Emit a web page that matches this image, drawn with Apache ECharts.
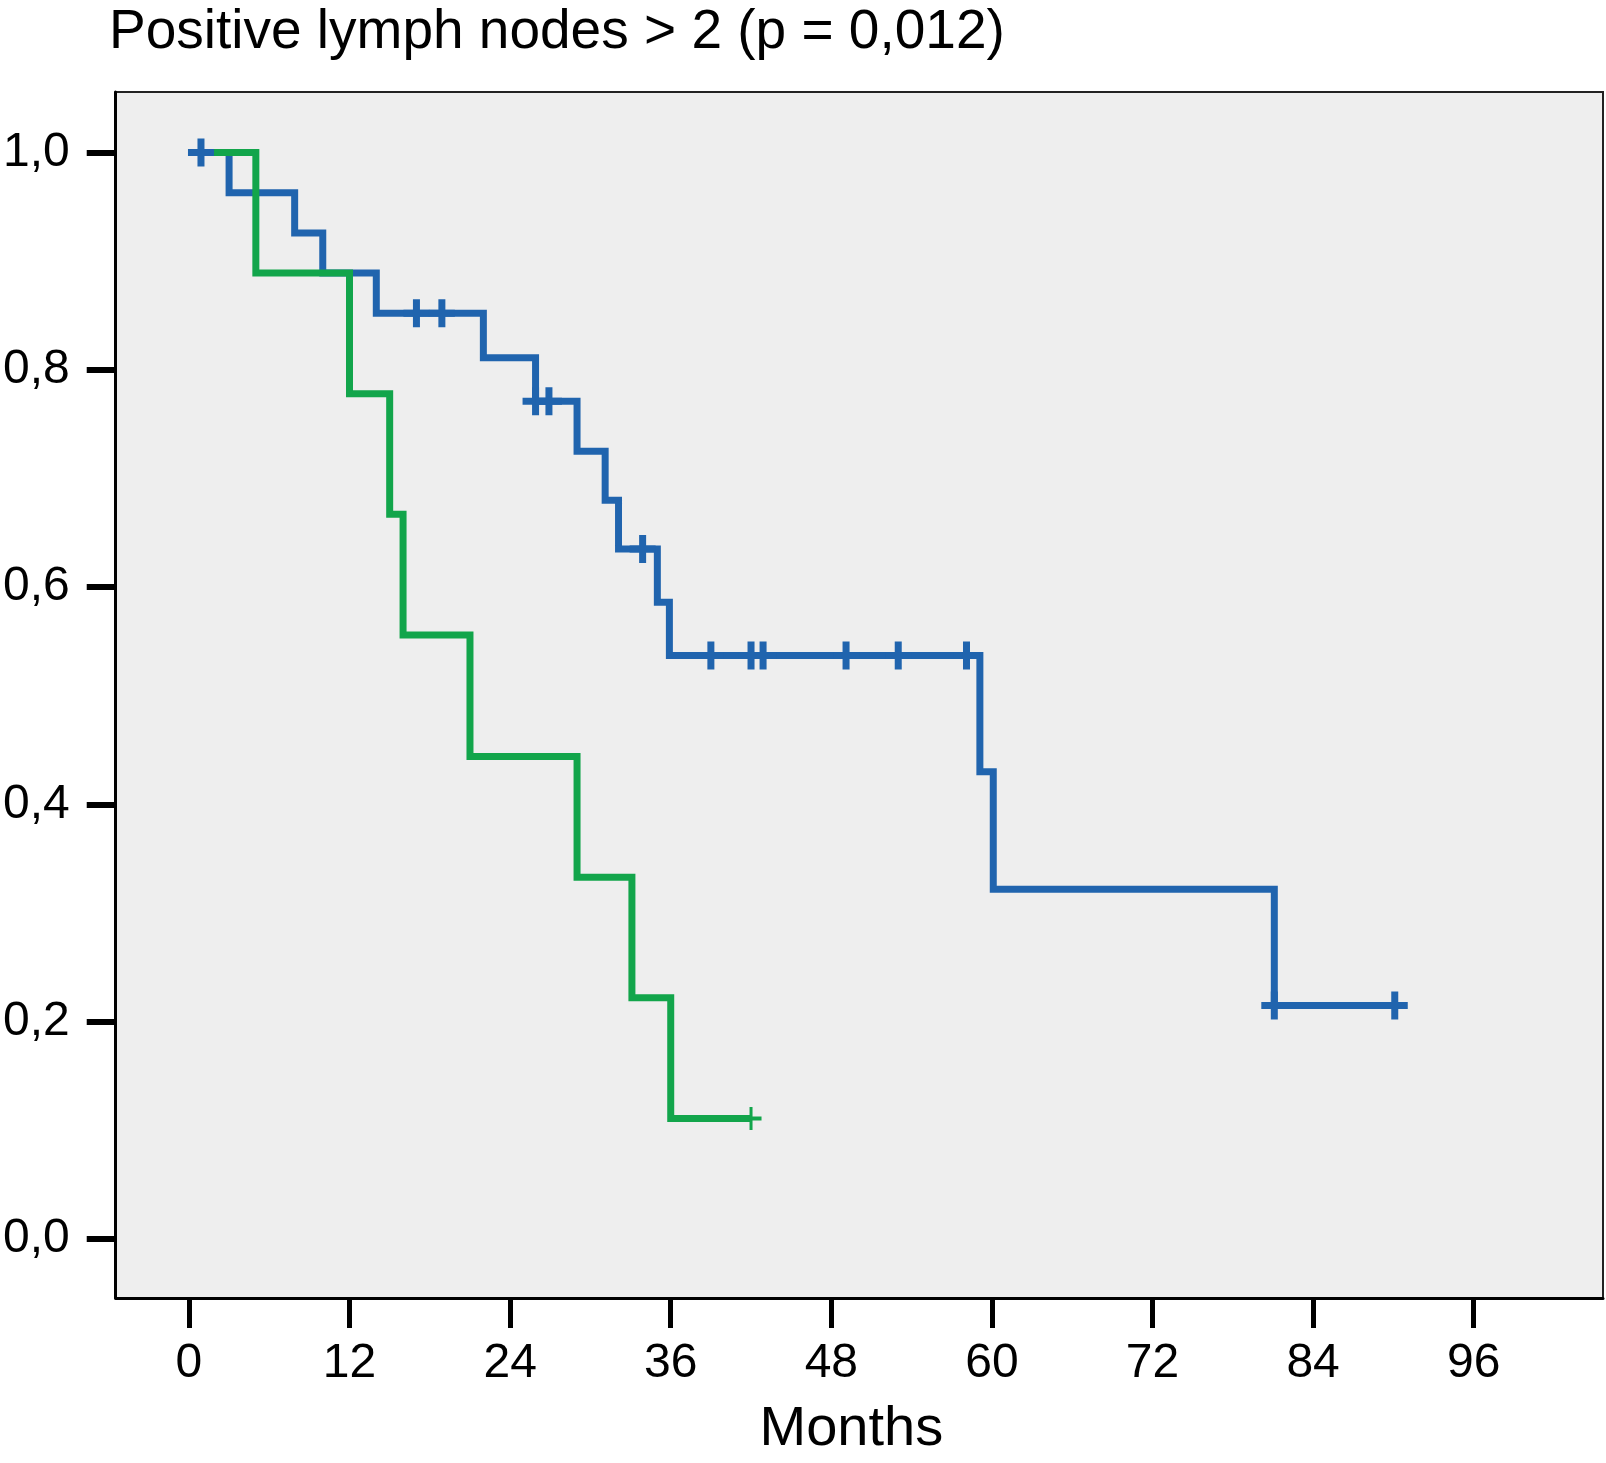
<!DOCTYPE html>
<html>
<head>
<meta charset="utf-8">
<script src="https://cdn.jsdelivr.net/npm/echarts@6/dist/echarts.min.js"></script>
<style>
html,body{margin:0;padding:0;background:#fff;}
#chart{width:1606px;height:1463px;}
</style>
</head>
<body>
<div id="chart"></div>
<script>
// ---- data ----
const titleText = 'Positive lymph nodes > 2 (p = 0,012)';
const xAxisName = 'Months';
const xTicks = [0, 12, 24, 36, 48, 60, 72, 84, 96];
const yTicks = [0, 0.2, 0.4, 0.6, 0.8, 1.0];

// blue group: step points (time, survival after the step)
const blueTimes = [0, 3.0, 7.9, 10.0, 14.0, 22.0, 25.9, 29.0, 31.1, 32.1, 35.0, 35.9, 59.1, 60.1, 81.1, 90.1];
const blueSurv  = [1.0, 0.963, 0.926, 0.889, 0.852, 0.811, 0.771, 0.725, 0.680, 0.635, 0.586, 0.537, 0.430, 0.322, 0.215, 0.215];
const blueCensorTimes = [0.9, 17.0, 18.9, 25.9, 26.9, 33.9, 39.0, 42.0, 42.9, 49.1, 53.0, 58.1, 81.1, 90.1];
const blueCensorSurv  = [1.0, 0.852, 0.852, 0.771, 0.771, 0.635, 0.537, 0.537, 0.537, 0.537, 0.537, 0.537, 0.215, 0.215];

// green group
const greenTimes = [0, 5.0, 12.0, 15.0, 16.0, 21.0, 29.0, 33.1, 36.0, 42.0];
const greenSurv  = [1.0, 0.889, 0.778, 0.667, 0.556, 0.444, 0.333, 0.222, 0.111, 0.111];
const greenCensorTimes = [42.0];
const greenCensorSurv  = [0.111];

// ---- build ----
const zip = (a, b) => a.map((v, i) => [v, b[i]]);
const BLUE = '#2064ae';
const GREEN = '#12a54b';
const FONT = "'Liberation Sans', Arial, Helvetica, sans-serif";

const crossBlue = 'path://M9.5,0H16.5V10.5H26V17.5H16.5V28H9.5V17.5H0V10.5H9.5Z';
const crossGreen = 'path://M9,0H12V9.5H21V13.5H12V23H9V13.5H0V9.5H9Z';

const chart = echarts.init(document.getElementById('chart'), null, {renderer: 'canvas'});
chart.setOption({
  animation: false,
  backgroundColor: '#ffffff',
  title: {
    text: titleText,
    left: 104,
    top: 0,
    textStyle: {fontFamily: FONT, fontSize: 55, fontWeight: 'normal', color: '#000'}
  },
  grid: {
    left: 113, right: 3, top: 92, bottom: 164,
    show: true, backgroundColor: '#eeeeee', borderColor: '#222', borderWidth: 2
  },
  xAxis: {
    type: 'value',
    min: -5.47, max: 105.66,
    name: xAxisName,
    nameLocation: 'middle',
    nameGap: 104,
    nameTextStyle: {fontFamily: FONT, fontSize: 56, color: '#000', padding: [0, 16, 0, 0]},
    axisLine: {show: true, onZero: false, lineStyle: {color: '#000', width: 3}},
    axisTick: {show: true, inside: false, length: 30, customValues: xTicks, lineStyle: {color: '#000', width: 5}},
    axisLabel: {show: true, margin: 42, customValues: xTicks, fontFamily: FONT, fontSize: 48, color: '#000'},
    splitLine: {show: false}
  },
  yAxis: {
    type: 'value',
    min: -0.0543, max: 1.0557,
    axisLine: {show: true, onZero: false, lineStyle: {color: '#000', width: 3}},
    axisTick: {show: true, inside: false, length: 29, customValues: yTicks, lineStyle: {color: '#000', width: 6}},
    axisLabel: {
      show: true, margin: 46, customValues: yTicks, fontFamily: FONT, fontSize: 48, color: '#000',
      formatter: v => v.toFixed(1).replace('.', ',')
    },
    splitLine: {show: false}
  },
  series: [
    {
      type: 'line', step: 'end', data: zip(blueTimes, blueSurv), showSymbol: false, z: 2,
      lineStyle: {color: BLUE, width: 7, join: 'miter', cap: 'butt'}
    },
    {
      type: 'line', step: 'end', data: zip(greenTimes, greenSurv), showSymbol: false, z: 3,
      lineStyle: {color: GREEN, width: 7, join: 'miter', cap: 'butt'}
    },
    {
      type: 'scatter', data: zip(blueCensorTimes, blueCensorSurv), z: 4,
      symbol: crossBlue, symbolSize: [26, 28], itemStyle: {color: BLUE, opacity: 1}
    },
    {
      type: 'scatter', data: zip(greenCensorTimes, greenCensorSurv), z: 4,
      symbol: crossGreen, symbolSize: [21, 23], itemStyle: {color: GREEN, opacity: 1}
    }
  ]
});
</script>
</body>
</html>
